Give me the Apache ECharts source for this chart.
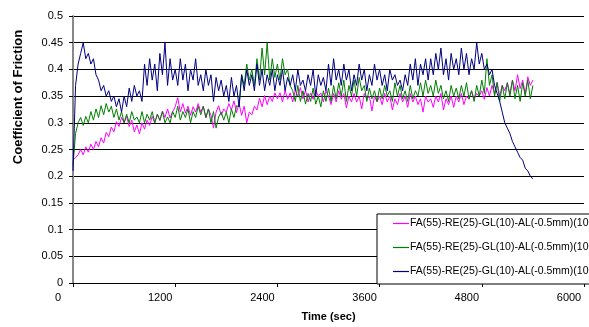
<!DOCTYPE html>
<html>
<head>
<meta charset="utf-8">
<script src="https://cdn.jsdelivr.net/npm/echarts@6/dist/echarts.min.js"></script>
<style>
html,body{margin:0;padding:0;background:#fff;}
#c{width:589px;height:327px;}
</style>
</head>
<body>
<div id="c"></div>
<script>
// Sampling interval of the readings (seconds)
const timeStepSec = 30;

const seriesNames = [
  "FA(55)-RE(25)-GL(10)-AL(-0.5mm)(100N)-1",
  "FA(55)-RE(25)-GL(10)-AL(-0.5mm)(100N)-2",
  "FA(55)-RE(25)-GL(10)-AL(-0.5mm)(100N)-3"
];

const xTicks = [0, 1200, 2400, 3600, 4800, 6000];
const yTicks = [0, 0.05, 0.1, 0.15, 0.2, 0.25, 0.3, 0.35, 0.4, 0.45, 0.5];

// magenta series, one value every 30 s from 0 s
const magentaValues = [
  0.23, 0.235, 0.24, 0.25, 0.24, 0.255, 0.245, 0.26, 0.25, 0.265,
  0.255, 0.272, 0.262, 0.282, 0.274, 0.292, 0.283, 0.302, 0.293, 0.31,
  0.30, 0.312, 0.293, 0.305, 0.283, 0.296, 0.279, 0.30, 0.288, 0.305,
  0.295, 0.312, 0.30, 0.316, 0.304, 0.322, 0.31, 0.326, 0.309, 0.321,
  0.33, 0.347, 0.32, 0.336, 0.318, 0.331, 0.314, 0.33, 0.32, 0.336,
  0.32, 0.331, 0.309, 0.326, 0.314, 0.29, 0.32, 0.332, 0.314, 0.326,
  0.32, 0.336, 0.324, 0.341, 0.319, 0.336, 0.314, 0.331, 0.30, 0.32,
  0.315, 0.331, 0.324, 0.346, 0.33, 0.351, 0.334, 0.35, 0.34, 0.356,
  0.345, 0.356, 0.339, 0.361, 0.344, 0.356, 0.339, 0.361, 0.35, 0.366,
  0.345, 0.361, 0.339, 0.356, 0.344, 0.361, 0.35, 0.356, 0.339, 0.36,
  0.35, 0.334, 0.355, 0.339, 0.36, 0.344, 0.355, 0.328, 0.35, 0.339,
  0.355, 0.339, 0.35, 0.326, 0.355, 0.344, 0.35, 0.322, 0.35, 0.339,
  0.35, 0.334, 0.355, 0.339, 0.35, 0.324, 0.345, 0.334, 0.355, 0.339,
  0.35, 0.329, 0.355, 0.339, 0.35, 0.334, 0.345, 0.32, 0.35, 0.339,
  0.345, 0.329, 0.35, 0.339, 0.355, 0.324, 0.345, 0.334, 0.35, 0.329,
  0.35, 0.339, 0.355, 0.334, 0.35, 0.344, 0.36, 0.344, 0.355, 0.35,
  0.36, 0.344, 0.366, 0.35, 0.37, 0.354, 0.376, 0.35, 0.37, 0.36,
  0.375, 0.354, 0.38, 0.36, 0.39, 0.364, 0.38, 0.354, 0.386, 0.37,
  0.38
];

// green series
const greenValues = [
  0.22, 0.28, 0.30, 0.31, 0.295, 0.312, 0.30, 0.321, 0.305, 0.326,
  0.31, 0.332, 0.315, 0.336, 0.32, 0.331, 0.31, 0.326, 0.305, 0.321,
  0.30, 0.316, 0.30, 0.321, 0.305, 0.311, 0.30, 0.321, 0.30, 0.316,
  0.305, 0.321, 0.30, 0.316, 0.305, 0.321, 0.30, 0.311, 0.30, 0.321,
  0.31, 0.331, 0.305, 0.321, 0.31, 0.326, 0.30, 0.321, 0.31, 0.331,
  0.315, 0.331, 0.31, 0.326, 0.30, 0.321, 0.29, 0.311, 0.32, 0.305,
  0.32, 0.30, 0.326, 0.31, 0.332, 0.33, 0.39, 0.37, 0.41, 0.38,
  0.40, 0.37, 0.42, 0.38, 0.44, 0.39, 0.45, 0.38, 0.42, 0.385,
  0.41, 0.38, 0.42, 0.39, 0.40, 0.37, 0.36, 0.34, 0.37, 0.34,
  0.36, 0.335, 0.355, 0.34, 0.365, 0.335, 0.35, 0.33, 0.36, 0.34,
  0.365, 0.34, 0.37, 0.345, 0.375, 0.35, 0.38, 0.34, 0.37, 0.35,
  0.38, 0.35, 0.385, 0.36, 0.37, 0.34, 0.365, 0.345, 0.36, 0.34,
  0.365, 0.345, 0.37, 0.35, 0.36, 0.34, 0.375, 0.35, 0.37, 0.345,
  0.36, 0.34, 0.37, 0.345, 0.36, 0.35, 0.375, 0.35, 0.38, 0.355,
  0.37, 0.35, 0.38, 0.355, 0.37, 0.345, 0.36, 0.34, 0.37, 0.35,
  0.365, 0.345, 0.37, 0.35, 0.375, 0.345, 0.36, 0.34, 0.37, 0.35,
  0.38, 0.355, 0.42, 0.37, 0.39, 0.35, 0.375, 0.34, 0.37, 0.345,
  0.375, 0.35, 0.38, 0.345, 0.37, 0.34, 0.375, 0.35, 0.38, 0.345,
  0.37
];

// navy series
const navyValues = [
  0.21, 0.37, 0.41, 0.43, 0.45, 0.42, 0.43, 0.41, 0.42, 0.39,
  0.38, 0.36, 0.37, 0.35, 0.36, 0.34, 0.35, 0.33, 0.345, 0.32,
  0.35, 0.33, 0.365, 0.34, 0.37, 0.35, 0.36, 0.34, 0.41, 0.37,
  0.42, 0.38, 0.41, 0.36, 0.43, 0.39, 0.45, 0.37, 0.42, 0.38,
  0.40, 0.37, 0.42, 0.38, 0.41, 0.36, 0.40, 0.38, 0.42, 0.37,
  0.39, 0.36, 0.40, 0.37, 0.39, 0.34, 0.385, 0.36, 0.38, 0.35,
  0.37, 0.34, 0.385, 0.35, 0.37, 0.33, 0.39, 0.36, 0.40, 0.37,
  0.39, 0.36, 0.41, 0.37, 0.40, 0.36, 0.39, 0.37, 0.40, 0.36,
  0.39, 0.37, 0.40, 0.36, 0.385, 0.37, 0.39, 0.36, 0.40, 0.37,
  0.38, 0.36, 0.39, 0.37, 0.40, 0.35, 0.39, 0.37, 0.385, 0.36,
  0.41, 0.37, 0.42, 0.38, 0.40, 0.37, 0.41, 0.38, 0.40, 0.36,
  0.39, 0.37, 0.41, 0.38, 0.40, 0.36, 0.39, 0.37, 0.41, 0.38,
  0.40, 0.37, 0.39, 0.36, 0.40, 0.38, 0.39, 0.37, 0.38, 0.36,
  0.39, 0.37, 0.41, 0.38, 0.42, 0.37, 0.41, 0.39, 0.42, 0.38,
  0.42, 0.39, 0.43, 0.40, 0.44, 0.39, 0.42, 0.38, 0.43, 0.40,
  0.42, 0.39, 0.44, 0.40, 0.43, 0.39, 0.42, 0.40, 0.45, 0.41,
  0.43, 0.40, 0.41, 0.39, 0.40, 0.37, 0.355, 0.34, 0.32, 0.30,
  0.29, 0.28, 0.265, 0.255, 0.245, 0.235, 0.23, 0.215, 0.21, 0.20,
  0.195
];

const seriesColors = ["#FF00FF", "#008000", "#000080"];
const seriesValues = [magentaValues, greenValues, navyValues];

function toPairs(vals) {
  return vals.map((v, i) => [i * timeStepSec, v]);
}

const chart = echarts.init(document.getElementById('c'), null, {renderer: 'canvas'});
const FONT = 'Arial, "Liberation Sans", sans-serif';

chart.setOption({
  animation: false,
  backgroundColor: '#fff',
  grid: {left: 73, right: 5, top: 16, bottom: 39, containLabel: false},
  legend: {
    orient: 'vertical',
    left: 377,
    top: 214,
    padding: [3, 6, 6, 16],
    itemGap: 11,
    itemWidth: 16,
    itemHeight: 13,
    icon: 'path://M0,6 L16,6 L16,7.2 L0,7.2 Z',
    itemStyle: {borderWidth: 0},
    backgroundColor: '#fff',
    borderColor: '#000',
    borderWidth: 1,
    textStyle: {fontFamily: FONT, fontSize: 10.5, color: '#000', lineHeight: 13, padding: [0, 0, 0, -4]},
    data: seriesNames
  },
  xAxis: {
    type: 'value',
    min: 0, max: 6000, interval: 1200,
    name: 'Time (sec)',
    nameLocation: 'middle',
    nameGap: 28,
    nameTextStyle: {fontFamily: FONT, fontSize: 11, fontWeight: 'bold', color: '#000'},
    axisLine: {show: true, onZero: false, lineStyle: {color: '#000', width: 1}},
    axisTick: {show: true, inside: false, length: 4, lineStyle: {color: '#000'}},
    axisLabel: {fontFamily: FONT, fontSize: 11, color: '#000', margin: 9, padding: [0, 30, 0, 0],
      formatter: v => String(v)},
    splitLine: {show: false}
  },
  yAxis: {
    type: 'value',
    min: 0, max: 0.5, interval: 0.05,
    axisLine: {show: true, lineStyle: {color: '#888', width: 2}},
    axisTick: {show: true, inside: false, length: 4, lineStyle: {color: '#000'}},
    axisLabel: {fontFamily: FONT, fontSize: 11, color: '#000', margin: 10,
      formatter: v => String(Math.round(v * 100) / 100)},
    splitLine: {show: true, lineStyle: {color: '#000', width: 1}}
  },
  graphic: [{
    type: 'text',
    x: 18, y: 97,
    rotation: Math.PI / 2,
    style: {
      text: 'Coefficient of Friction',
      font: 'bold 13px ' + FONT,
      fill: '#000',
      align: 'center',
      verticalAlign: 'middle'
    }
  }],
  series: seriesNames.map((n, k) => ({
    name: n,
    type: 'line',
    showSymbol: false,
    symbol: 'none',
    color: seriesColors[k],
    lineStyle: {color: seriesColors[k], width: 1},
    data: toPairs(seriesValues[k])
  }))
});
</script>
</body>
</html>
